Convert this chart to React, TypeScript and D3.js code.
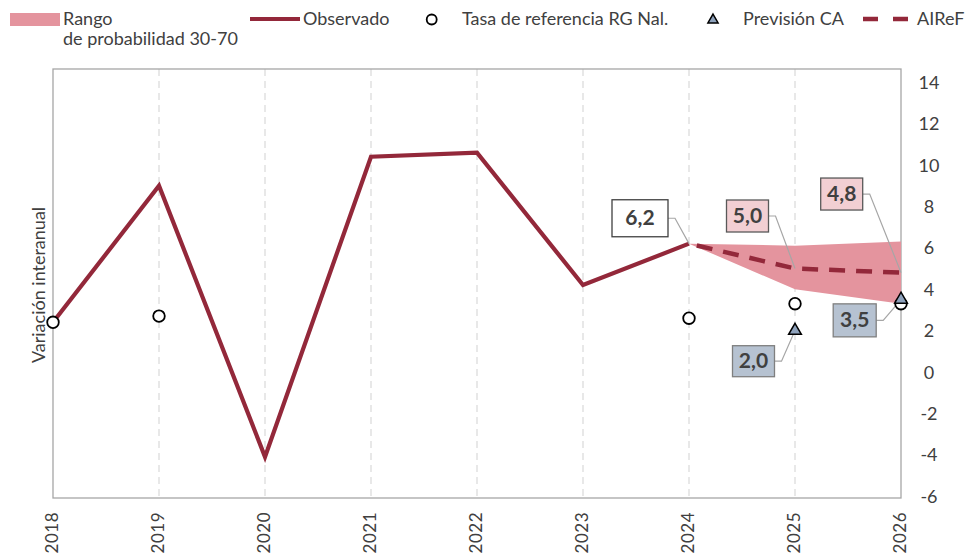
import React from "react";
import * as d3 from "d3";

const years = ["2018", "2019", "2020", "2021", "2022", "2023", "2024", "2025", "2026"];
const observado = [2.4, 9.0, -4.1, 10.4, 10.6, 4.2, 6.2];
const observadoYears = years.slice(0, 7);
const airefYears = ["2024", "2025", "2026"];
const airef = [6.2, 5.0, 4.8];
const bandLow = [6.2, 4.0, 3.3];
const bandHigh = [6.2, 6.1, 6.3];
const tasaYears = ["2018", "2019", "2024", "2025", "2026"];
const tasaRef = [2.4, 2.7, 2.6, 3.3, 3.3];
const prevYears = ["2025", "2026"];
const prevCA = [2.0, 3.5];
const yTicks = [14, 12, 10, 8, 6, 4, 2, 0, -2, -4, -6];

const labelYears = ["2024", "2025", "2026", "2025", "2026"];
const labelValues = [6.2, 5.0, 4.8, 2.0, 3.5];
const labelTexts = ["6,2", "5,0", "4,8", "2,0", "3,5"];
const labelKinds = ["obs", "airef", "airef", "ca", "ca"];
const labelOffsets = [
  { dx: -49, dy: -25.4, w: 56, h: 37 },
  { dx: -47.5, dy: -52.5, w: 42, h: 32 },
  { dx: -59.3, dy: -78.6, w: 42, h: 32 },
  { dx: -41.5, dy: 30.6, w: 42, h: 31 },
  { dx: -46.3, dy: 20.8, w: 43, h: 33 },
];

const FONT = "Lato, 'Open Sans', sans-serif";
const TXT = "#404040";
const RED = "#93283A";
const BAND = "#E4949E";
const TRI = "#8EA2BC";

export default function App() {
  const x = d3.scalePoint<string>().domain(years).range([53, 901]);
  const y = d3.scaleLinear().domain([-6, 14]).range([496.2, 82.2]);
  const frameTop = 69;
  const frameBottom = 498;

  const line = d3
    .line<[string, number]>()
    .x((d) => x(d[0]) as number)
    .y((d) => y(d[1]));
  const area = d3
    .area<number>()
    .x((_, i) => x(airefYears[i]) as number)
    .y0((_, i) => y(bandLow[i]))
    .y1((_, i) => y(bandHigh[i]));

  const triPath = d3.symbol().type(d3.symbolTriangle).size(70)();

  const boxStyle: Record<string, { fill: string; stroke: string }> = {
    obs: { fill: "#FFFFFF", stroke: "#404040" },
    airef: { fill: "#F2CFD3", stroke: "#595959" },
    ca: { fill: "#B6C2D1", stroke: "#7F7F7F" },
  };

  return (
    <svg
      width={967}
      height={553}
      style={{ position: "absolute", left: 0, top: 0, background: "#fff" }}
      fontFamily={FONT}
    >
      {/* grid */}
      {years.slice(1, -1).map((yr) => (
        <line
          key={yr}
          x1={x(yr)}
          x2={x(yr)}
          y1={frameTop}
          y2={frameBottom}
          stroke="#D9D9D9"
          strokeWidth={1.2}
          strokeDasharray="7,5"
        />
      ))}
      <rect
        x={x("2018")}
        y={frameTop}
        width={(x("2026") as number) - (x("2018") as number)}
        height={frameBottom - frameTop}
        fill="none"
        stroke="#A6A6A6"
        strokeWidth={1.3}
      />
      {/* y ticks */}
      {yTicks.map((t) => (
        <text
          key={t}
          x={929}
          y={y(t) + 2}
          textAnchor="middle"
          dominantBaseline="middle"
          fontSize={18}
          fill={TXT}
        >
          {t}
        </text>
      ))}
      {/* x labels */}
      {years.map((yr) => (
        <text
          key={yr}
          transform={`translate(${(x(yr) as number) + 1},512) rotate(-90)`}
          textAnchor="end"
          dominantBaseline="middle"
          fontSize={17}
          letterSpacing={0.5}
          fill={TXT}
        >
          {yr}
        </text>
      ))}
      {/* y axis title */}
      <text
        transform="translate(40,285) rotate(-90)"
        textAnchor="middle"
        dominantBaseline="middle"
        fontSize={18}
        fill={TXT}
      >
        Variación interanual
      </text>

      {/* band */}
      <path d={area(bandLow) || ""} fill={BAND} />
      {/* observed */}
      <path
        d={line(observadoYears.map((yr, i) => [yr, observado[i]])) || ""}
        fill="none"
        stroke={RED}
        strokeWidth={4.2}
        strokeLinejoin="miter"
      />
      {/* airef */}
      <path
        d={line(airefYears.map((yr, i) => [yr, airef[i]])) || ""}
        fill="none"
        stroke={RED}
        strokeWidth={4.5}
        strokeDasharray="16,11"
        strokeDashoffset={-8}
      />
      {/* leaders and labels */}
      {labelTexts.map((t, i) => {
        const ax = x(labelYears[i]) as number;
        const ay = y(labelValues[i]);
        const o = labelOffsets[i];
        const cx = ax + o.dx;
        const cy = ay + o.dy;
        const right = cx + o.w / 2;
        const st = boxStyle[labelKinds[i]];
        return (
          <g key={i}>
            <polyline
              points={`${right},${cy} ${right + 7},${cy} ${ax},${ay}`}
              fill="none"
              stroke="#A6A6A6"
              strokeWidth={1.2}
            />
            <rect
              x={cx - o.w / 2}
              y={cy - o.h / 2}
              width={o.w}
              height={o.h}
              fill={st.fill}
              stroke={st.stroke}
              strokeWidth={1.3}
            />
            <text
              x={cx}
              y={cy + 1.5}
              textAnchor="middle"
              dominantBaseline="middle"
              fontSize={21}
              fontWeight="bold"
              fill={TXT}
            >
              {t}
            </text>
          </g>
        );
      })}
      {/* circles */}
      {tasaYears.map((yr, i) => (
        <circle
          key={yr}
          cx={x(yr)}
          cy={y(tasaRef[i])}
          r={5.8}
          fill="#fff"
          stroke="#000"
          strokeWidth={1.8}
        />
      ))}
      {/* triangles */}
      {prevYears.map((yr, i) => (
        <path
          key={yr}
          d={triPath || ""}
          transform={`translate(${x(yr)},${y(prevCA[i])})`}
          fill={TRI}
          stroke="#000"
          strokeWidth={1.5}
        />
      ))}

      {/* legend */}
      <rect x={10} y={13} width={50} height={13} fill={BAND} />
      <text x={63} y={25} fontSize={18} fill={TXT}>Rango</text>
      <text x={63} y={45} fontSize={18} fill={TXT}>de probabilidad 30-70</text>
      <line x1={250} x2={300} y1={19} y2={19} stroke={RED} strokeWidth={4} />
      <text x={303} y={25} fontSize={18} fill={TXT}>Observado</text>
      <circle cx={431.7} cy={19.5} r={5} fill="#fff" stroke="#000" strokeWidth={1.8} />
      <text x={462} y={25} fontSize={18} fill={TXT}>Tasa de referencia RG Nal.</text>
      <path d={d3.symbol().type(d3.symbolTriangle).size(45)() || ""} transform="translate(713,20)" fill={TRI} stroke="#000" strokeWidth={1.5} />
      <text x={743} y={25} fontSize={18} fill={TXT}>Previsión CA</text>
      <line x1={863} x2={908} y1={19} y2={19} stroke={RED} strokeWidth={4.5} strokeDasharray="15,15" />
      <text x={917} y={25} fontSize={18} fill={TXT}>AIReF</text>
    </svg>
  );
}
